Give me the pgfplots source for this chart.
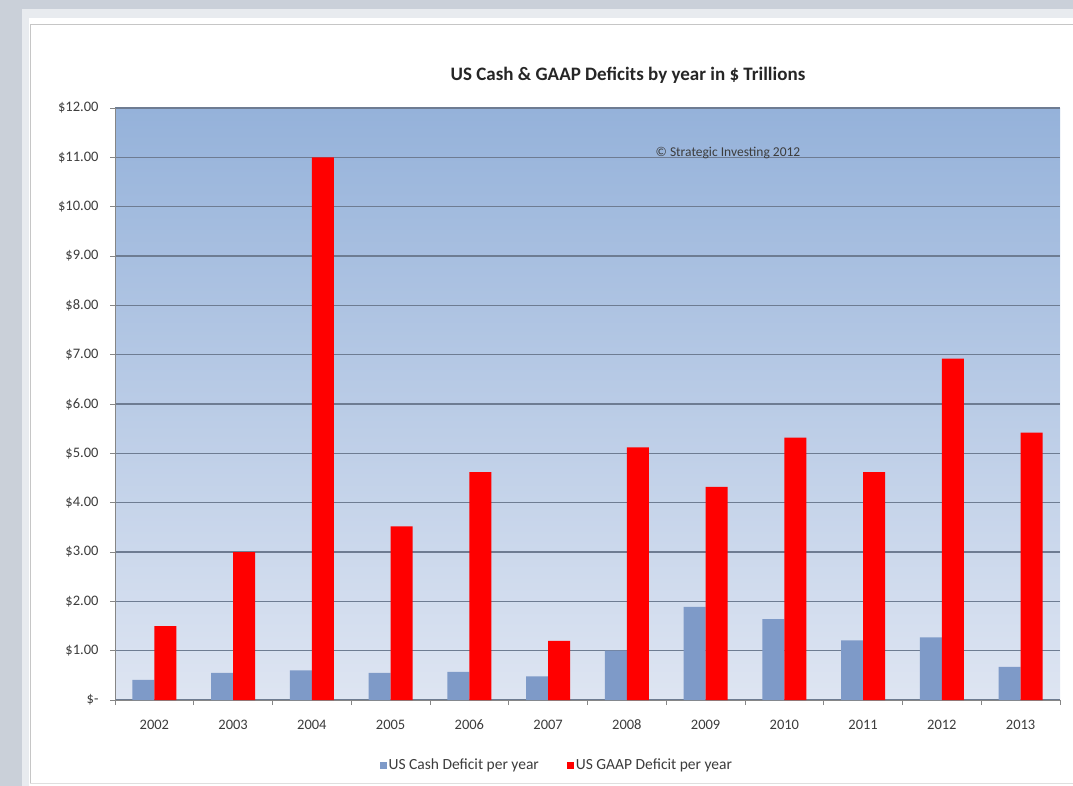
\documentclass[border=0pt]{standalone}
\usepackage{fontspec}
\setmainfont{Carlito}
\usepackage{pgfplots}
\pgfplotsset{compat=1.18}
\definecolor{framegray}{RGB}{202,208,217}
\definecolor{bandgray}{RGB}{232,235,239}
\definecolor{bgtop}{RGB}{149,178,218}
\definecolor{bgbot}{RGB}{222,229,242}
\definecolor{cashblue}{RGB}{126,154,200}
\definecolor{gaapred}{RGB}{255,0,0}
\definecolor{gridc}{RGB}{110,124,146}
\definecolor{axisc}{RGB}{134,134,134}
\definecolor{txt}{RGB}{60,60,60}
\begin{document}
\begin{tikzpicture}
\fill[framegray] (0pt,0pt) rectangle (1073pt,-786pt);
\fill[bandgray] (22pt,-9pt) rectangle (1073pt,-786pt);
\fill[white] (29pt,-18pt) rectangle (1073pt,-786pt);
\draw[gray!45, line width=1pt] (30pt,-783pt) -- (30pt,-25pt) -- (1073pt,-25pt);
\draw[gray!25, line width=1pt] (30pt,-783pt) -- (1073pt,-783pt);
\begin{axis}[
  at={(115pt,-700pt)}, anchor=south west,
  scale only axis, width=945pt, height=592pt,
  ybar=0pt, bar width=22pt,
  xmin=-0.5, xmax=11.5, ymin=0, ymax=12,
  xtick={0,...,11},
  xticklabels={2002,2003,2004,2005,2006,2007,2008,2009,2010,2011,2012,2013},
  minor xtick={-0.5,0.5,...,11.5},
  xtick style={draw=none},
  minor x tick style={draw=axisc, line width=0.8pt},
  ytick={0,...,12},
  yticklabels={\$-,\$1.00,\$2.00,\$3.00,\$4.00,\$5.00,\$6.00,\$7.00,\$8.00,\$9.00,\$10.00,\$11.00,\$12.00},
  y tick style={draw=axisc, line width=0.8pt},
  tick align=outside, major tick length=5pt, minor tick length=5pt,
  ymajorgrids, grid style={draw=gridc, line width=1.1pt},
  axis x line*=bottom, axis y line*=left,
  axis line style={draw=axisc, line width=0.8pt, -},
  axis background/.style={shade, top color=bgtop, bottom color=bgbot},
  /pgf/number format/assume math mode=true,
  ticklabel style={font=\fontsize{14.5}{16}\selectfont, text=txt},
  xticklabel style={yshift=-11pt, text height=10pt, text depth=0pt},
  yticklabel style={xshift=-8pt},
  legend style={at={(0.4675,-0.1098)}, anchor=center, draw=none, fill=none,
    legend columns=2, font=\fontsize{15.5}{17}\selectfont, text=txt,
    /tikz/every even column/.append style={column sep=26pt}},
  legend image code/.code={\fill[#1] (0pt,-3.5pt) rectangle (7pt,3.5pt);},
]
\addplot[fill=cashblue, draw=none] coordinates {
(0,0.41) (1,0.55) (2,0.60) (3,0.55) (4,0.57) (5,0.48) (6,1.00) (7,1.89) (8,1.64) (9,1.21) (10,1.27) (11,0.67)};
\addplot[fill=gaapred, draw=none] coordinates {
(0,1.50) (1,3.00) (2,11.00) (3,3.52) (4,4.62) (5,1.20) (6,5.12) (7,4.32) (8,5.32) (9,4.62) (10,6.92) (11,5.42)};
\legend{US Cash Deficit per year, US GAAP Deficit per year}
\end{axis}
\node[font=\fontsize{19}{22}\selectfont\bfseries, text=black!85] at (628pt,-75pt) {US Cash \& GAAP Deficits by year in \$ Trillions};
\node[font=\fontsize{13.5}{15}\selectfont, text=txt] at (728pt,-153pt) {© Strategic Investing 2012};
\pgfresetboundingbox
\path (0pt,0pt) rectangle (1073pt,-786pt);
\end{tikzpicture}
\end{document}
